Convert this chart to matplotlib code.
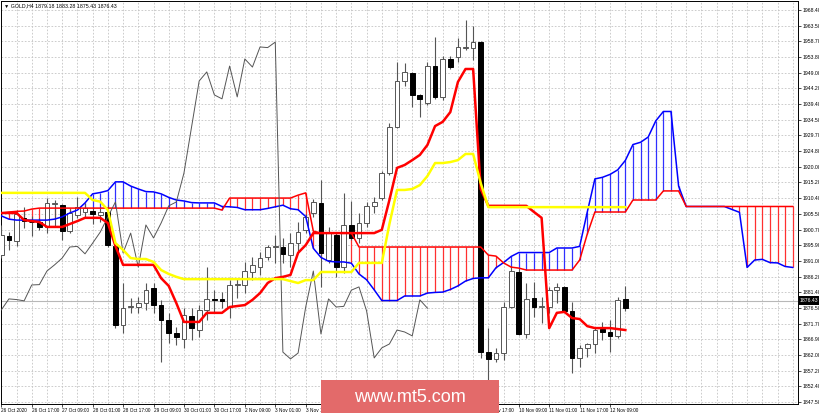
import matplotlib
matplotlib.use("Agg")
import matplotlib.pyplot as plt
from matplotlib.patches import Rectangle
import numpy as np

plt.rcParams['font.family'] = ['Liberation Sans', 'DejaVu Sans']

symbol_title = "GOLD,H4"

opens = [1892.8, 1898.7, 1897.2, 1904.3, 1903.0, 1903.0, 1901.5, 1908.6, 1908.3, 1900.2,
         1905.2, 1906.1, 1906.4, 1905.2, 1906.1, 1895.6, 1871.3, 1876.8, 1876.8, 1878.0,
         1882.7, 1877.4, 1872.8, 1868.8, 1866.9, 1874.0, 1869.7, 1875.9, 1879.3, 1879.3,
         1876.8, 1883.6, 1883.6, 1887.6, 1889.1, 1892.2, 1895.3, 1895.3, 1892.8, 1896.5,
         1900.6, 1905.8, 1908.9, 1891.3, 1899.0, 1889.1, 1902.1, 1898.1, 1902.7, 1908.0,
         1910.4, 1918.1, 1932.3, 1946.5, 1949.0, 1942.2, 1939.7, 1951.1, 1941.6, 1953.3,
         1953.9, 1956.7, 1956.7, 1958.5, 1862.9, 1860.8, 1862.6, 1876.8, 1887.6, 1868.5,
         1879.6, 1876.8, 1876.8, 1882.0, 1883.0, 1875.6, 1861.1, 1864.2, 1865.4, 1870.0,
         1869.1, 1867.9, 1879.18]
highs = [1902.1, 1899.9, 1906.7, 1907.6, 1904.9, 1904.3, 1910.4, 1909.8, 1908.6, 1907.0,
         1910.7, 1908.9, 1907.6, 1907.3, 1908.3, 1896.2, 1884.2, 1879.6, 1879.9, 1884.2,
         1884.2, 1879.0, 1875.0, 1870.6, 1876.5, 1876.5, 1877.4, 1889.1, 1882.0, 1881.4,
         1885.1, 1885.7, 1890.7, 1892.2, 1893.8, 1895.9, 1899.0, 1898.1, 1899.6, 1903.0,
         1905.5, 1910.1, 1916.0, 1901.5, 1899.6, 1912.0, 1909.5, 1905.8, 1909.2, 1910.7,
         1918.7, 1933.6, 1952.4, 1952.1, 1949.3, 1942.5, 1952.4, 1960.1, 1954.2, 1954.2,
         1959.8, 1965.3, 1963.5, 1958.8, 1870.3, 1864.2, 1878.3, 1889.4, 1888.8, 1884.2,
         1884.5, 1879.9, 1883.0, 1884.2, 1883.3, 1878.3, 1865.1, 1865.7, 1870.3, 1872.2,
         1872.8, 1879.9, 1883.28]
lows = [1891.9, 1894.4, 1895.6, 1901.2, 1898.7, 1900.6, 1899.6, 1901.5, 1897.5, 1899.6,
        1904.3, 1904.3, 1902.4, 1903.0, 1895.3, 1870.3, 1868.8, 1875.0, 1875.0, 1875.9,
        1875.0, 1859.8, 1865.7, 1865.1, 1864.2, 1866.6, 1867.6, 1872.8, 1875.0, 1876.5,
        1873.4, 1879.6, 1881.1, 1885.1, 1886.7, 1891.3, 1890.4, 1890.4, 1889.1, 1893.8,
        1899.6, 1904.6, 1883.0, 1890.4, 1886.1, 1887.3, 1897.5, 1896.5, 1901.5, 1905.8,
        1909.8, 1917.5, 1932.0, 1945.0, 1938.5, 1935.4, 1939.1, 1941.0, 1940.6, 1950.2,
        1952.4, 1956.1, 1953.0, 1861.1, 1854.3, 1859.8, 1860.5, 1876.5, 1868.2, 1867.2,
        1873.7, 1871.9, 1875.0, 1878.0, 1875.3, 1856.5, 1858.3, 1861.4, 1862.6, 1866.6,
        1862.9, 1867.2, 1875.43]
closes = [1899.0, 1897.5, 1905.5, 1903.3, 1902.9, 1901.5, 1908.9, 1908.7, 1900.2, 1905.8,
          1907.6, 1907.3, 1905.5, 1906.1, 1895.9, 1871.3, 1876.5, 1877.0, 1878.0, 1882.0,
          1877.4, 1872.8, 1868.8, 1867.6, 1874.3, 1870.3, 1875.9, 1879.3, 1879.1, 1878.7,
          1883.6, 1883.7, 1887.9, 1889.8, 1891.9, 1895.3, 1895.5, 1893.2, 1896.5, 1899.9,
          1904.6, 1909.2, 1893.5, 1899.6, 1889.1, 1902.1, 1898.1, 1902.7, 1908.0, 1909.2,
          1918.1, 1932.3, 1946.5, 1949.3, 1942.2, 1941.0, 1951.1, 1941.6, 1953.3, 1950.8,
          1957.0, 1956.8, 1958.5, 1862.9, 1860.8, 1862.6, 1876.8, 1887.9, 1868.5, 1879.3,
          1876.8, 1877.0, 1882.0, 1883.0, 1875.6, 1861.1, 1864.2, 1865.4, 1869.7, 1869.1,
          1867.9, 1879.0, 1876.43]

tenkan = [1905.8, 1905.8, 1905.8, 1903.6, 1903.3, 1903.0, 1901.5, 1901.5, 1901.5, 1902.4,
          1903.3, 1904.3, 1904.3, 1904.3, 1902.7, 1895.6, 1889.8, 1889.8, 1889.8, 1889.8,
          1889.8, 1885.7, 1883.3, 1878.0, 1872.2, 1872.2, 1872.2, 1875.0, 1875.0, 1875.0,
          1876.8, 1877.1, 1877.4, 1879.0, 1881.1, 1884.2, 1885.7, 1886.1, 1886.7, 1893.5,
          1895.9, 1899.6, 1899.6, 1899.6, 1899.6, 1899.6, 1899.6, 1899.6, 1899.6, 1899.6,
          1900.6, 1909.8, 1919.7, 1920.6, 1922.1, 1923.7, 1926.8, 1932.6, 1933.9, 1936.9,
          1946.2, 1950.2, 1950.2, 1913.2, 1908.0, 1908.0, 1908.0, 1908.0, 1908.0, 1908.0,
          1906.1, 1904.3, 1870.3, 1875.0, 1875.3, 1873.4, 1873.1, 1870.9, 1870.3, 1870.3,
          1870.3, 1870.0, 1869.7]
kijun = [1912.0, 1912.0, 1912.0, 1912.0, 1912.0, 1912.0, 1912.0, 1912.0, 1912.0, 1912.0,
         1912.0, 1912.0, 1909.8, 1909.3, 1906.7, 1896.5, 1894.4, 1891.9, 1891.6, 1891.6,
         1890.7, 1888.2, 1887.0, 1886.1, 1885.4, 1885.4, 1885.4, 1885.4, 1885.4, 1885.4,
         1885.4, 1885.4, 1885.4, 1885.4, 1885.4, 1885.4, 1885.4, 1885.4, 1884.8, 1884.2,
         1885.1, 1885.1, 1887.6, 1887.6, 1887.6, 1887.6, 1887.6, 1890.4, 1890.4, 1890.4,
         1890.4, 1902.4, 1912.9, 1912.9, 1913.2, 1914.4, 1917.2, 1921.2, 1921.2, 1921.5,
         1922.1, 1924.0, 1924.0, 1915.0, 1907.6, 1907.6, 1907.6, 1907.6, 1907.6, 1907.6,
         1907.6, 1907.6, 1907.6, 1907.6, 1907.6, 1907.6, 1907.6, 1907.6, 1907.6, 1907.6,
         1907.6, 1907.6, 1907.6]
span_a = [1904.9, 1903.9, 1903.6, 1903.6, 1903.6, 1903.6, 1903.6, 1903.9, 1904.6, 1905.8,
          1906.7, 1908.9, 1911.7, 1912.1, 1912.7, 1915.4, 1915.4, 1914.1, 1913.2, 1912.4,
          1912.3, 1911.7, 1910.6, 1909.8, 1909.5, 1909.0, 1908.9, 1908.9, 1908.9, 1907.8,
          1907.7, 1907.5, 1906.8, 1906.8, 1906.8, 1907.2, 1907.7, 1908.2, 1907.1, 1906.8,
          1904.7, 1894.9, 1892.1, 1890.9, 1890.7, 1890.7, 1890.3, 1887.0, 1885.2, 1882.1,
          1878.8, 1878.8, 1878.8, 1880.2, 1880.2, 1880.2, 1881.1, 1881.3, 1881.4, 1882.2,
          1883.3, 1884.8, 1885.6, 1885.8, 1885.8, 1888.9, 1890.5, 1892.4, 1893.6, 1893.6,
          1893.6, 1893.6, 1893.6, 1895.0, 1895.0, 1895.0, 1895.5, 1906.1, 1916.3, 1916.8,
          1917.7, 1919.1, 1922.0, 1926.9, 1927.6, 1929.2, 1934.2, 1937.1, 1937.1, 1914.1,
          1907.8, 1907.8, 1907.8, 1907.8, 1907.8, 1907.8, 1906.9, 1906.0, 1889.0, 1891.3,
          1891.5, 1890.5, 1890.4, 1889.3, 1889.0]
span_b = [1905.8, 1906.1, 1906.3, 1906.4, 1907.0, 1907.3, 1907.3, 1907.3, 1907.3, 1907.3,
          1907.3, 1907.3, 1907.3, 1907.3, 1907.3, 1907.3, 1907.3, 1907.3, 1907.3, 1907.3,
          1907.3, 1907.3, 1907.3, 1907.3, 1907.3, 1907.3, 1907.3, 1907.3, 1907.3, 1906.7,
          1910.4, 1910.4, 1910.4, 1910.4, 1910.4, 1910.4, 1910.4, 1910.4, 1910.4, 1911.3,
          1912.0, 1900.2, 1899.6, 1899.6, 1899.6, 1899.6, 1899.6, 1895.3, 1895.3, 1895.3,
          1895.3, 1895.3, 1895.3, 1895.3, 1895.3, 1895.3, 1895.3, 1895.3, 1895.3, 1895.3,
          1895.3, 1895.3, 1895.3, 1895.3, 1892.8, 1892.5, 1890.4, 1889.1, 1888.8, 1888.2,
          1888.2, 1888.2, 1888.2, 1888.2, 1888.2, 1888.2, 1891.3, 1899.3, 1906.1, 1906.1,
          1906.1, 1906.1, 1906.1, 1909.8, 1909.8, 1909.8, 1909.8, 1912.6, 1912.6, 1912.6,
          1907.8, 1907.8, 1907.8, 1907.8, 1907.8, 1907.8, 1907.8, 1907.8, 1907.8, 1907.8,
          1907.8, 1907.8, 1907.8, 1907.8, 1907.8]
chikou_shift = 26

price_ticks = [1968.40, 1963.50, 1958.70, 1953.80, 1949.00, 1944.20, 1939.40, 1934.50,
               1929.70, 1924.80, 1920.00, 1915.20, 1910.40, 1905.50, 1900.70, 1895.90,
               1891.00, 1886.20, 1881.40, 1876.50, 1871.70, 1866.90, 1862.00, 1857.20,
               1852.40, 1847.50]
time_label_bars = [0, 4, 8, 12, 16, 20, 24, 28, 32, 36, 40, 44, 48, 52, 56, 60, 64, 68, 72, 76, 80]
time_labels = ["26 Oct 2020", "26 Oct 17:00", "27 Oct 09:00", "28 Oct 01:00", "28 Oct 17:00",
               "29 Oct 09:00", "30 Oct 01:00", "30 Oct 17:00", "2 Nov 09:00", "3 Nov 01:00",
               "3 Nov 17:00", "4 Nov 09:00", "5 Nov 01:00", "5 Nov 17:00", "6 Nov 09:00",
               "9 Nov 01:00", "9 Nov 17:00", "10 Nov 09:00", "11 Nov 01:00", "11 Nov 17:00",
               "12 Nov 09:00"]
bid_level = 1878.7
watermark = "www.mt5.com"

# ---------------------------------------------------------------
W, H = 820, 413
fig = plt.figure(figsize=(W / 100, H / 100), dpi=100)
fig.patch.set_facecolor('white')
ax = fig.add_axes([1 / W, 9 / H, 797 / W, 403 / H])
ax.set_facecolor('white')

o = np.array(opens); h = np.array(highs); l = np.array(lows); c = np.array(closes)
n = len(o)
idx = np.arange(n)
ci = np.arange(len(span_a))
sa = np.array(span_a); sb = np.array(span_b)

ax.set_xlim(-0.04, 104.69)
ax.set_ylim(1846.89, 1971.17)

# grid
grid_kw = dict(color='#c4c4c4', linestyle=(0, (2, 2)), linewidth=0.6, zorder=0)
for p in price_ticks:
    ax.axhline(p, **grid_kw)
for b in range(0, 106, 2):
    ax.axvline(b, **grid_kw)

# bid line
ax.axhline(bid_level, color='#b8b8b8', linewidth=0.8, zorder=1)

# cloud hatch
hatch_cols = np.where(sa >= sb, '#3030ff', '#ff3030')
ax.vlines(ci, np.minimum(sa, sb), np.maximum(sa, sb), colors=hatch_cols, linewidth=0.9, zorder=2)

# candles
ax.vlines(idx, l, h, colors='#555555', linewidth=0.8, zorder=3)
bull = c >= o
body_h = np.maximum(np.abs(c - o), 0.25)
body_b = np.minimum(o, c)
ax.bar(idx[bull], body_h[bull], bottom=body_b[bull], width=0.62, color='white',
       edgecolor='#555555', linewidth=0.7, zorder=4)
ax.bar(idx[~bull], body_h[~bull], bottom=body_b[~bull], width=0.62, color='black',
       edgecolor='black', linewidth=0.7, zorder=4)

# ichimoku lines
ax.plot(ci, sa, color='#0000ff', linewidth=1.1, zorder=5)
ax.plot(ci, sb, color='#ff0000', linewidth=1.1, zorder=5)
ax.plot(idx[:n - chikou_shift], c[chikou_shift:], color='#555555', linewidth=0.7, zorder=5)
ax.plot(idx, tenkan, color='#ff0000', linewidth=1.8, zorder=6)
ax.plot(idx, kijun, color='#ffff00', linewidth=1.8, zorder=7)

# axes styling
for s in ax.spines.values():
    s.set_color('#000000')
    s.set_linewidth(0.7)
ax.yaxis.tick_right()
ax.set_yticks(price_ticks)
ax.set_yticklabels([f"{p:.2f}" for p in price_ticks])
ax.tick_params(axis='y', which='both', length=2, width=0.5, pad=1, labelsize=3.7, colors='#000000')
ax.set_xticks(time_label_bars)
ax.set_xticklabels(time_labels, ha='left')
ax.tick_params(axis='x', which='both', length=2, width=0.5, pad=1, labelsize=3.4, colors='#000000')

# header
header = (f"\u25bc {symbol_title} {opens[-1]:.2f} {highs[-1]:.2f} "
          f"{lows[-1]:.2f} {closes[-1]:.2f}")
fig.text(4 / W, 1 - 5.5 / H, header, fontsize=3.8, va='center', ha='left', color='black',
         family=['Liberation Sans', 'DejaVu Sans'])

# current price box on the right scale
y_frac = ax.transData.transform((0, bid_level))[1] / H
box_h = 9 / H
fig.patches.append(Rectangle((799 / W, y_frac - box_h / 2), 20 / W, box_h,
                             transform=fig.transFigure, facecolor='black',
                             edgecolor='none', zorder=6))
fig.text(809 / W, y_frac, f"{closes[-1]:.2f}", fontsize=3.7, color='white',
         ha='center', va='center', zorder=7)

# watermark
fig.patches.append(Rectangle((321 / W, 0), 178 / W, 33 / H, transform=fig.transFigure,
                             facecolor='#e36a6a', edgecolor='none', zorder=10))
fig.text(410 / W, 16 / H, watermark, fontsize=13, color='white', ha='center',
         va='center', zorder=11, family=['Liberation Sans', 'DejaVu Sans'])

fig.savefig('out.png', dpi=100)
